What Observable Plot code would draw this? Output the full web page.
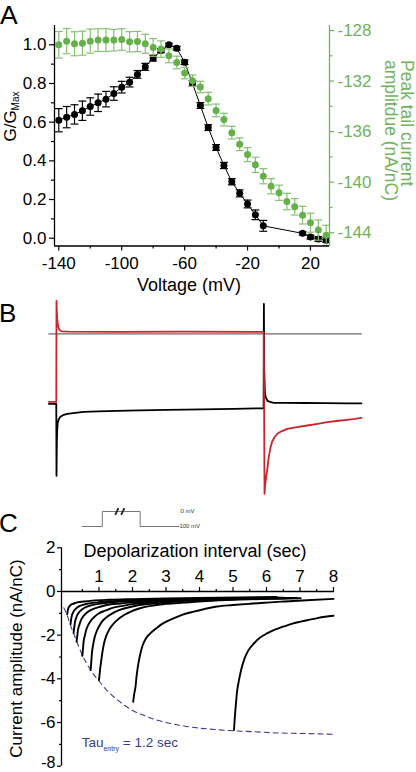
<!DOCTYPE html>
<html><head><meta charset="utf-8">
<script src="https://cdn.jsdelivr.net/npm/d3@7"></script>
<script src="https://cdn.jsdelivr.net/npm/@observablehq/plot@0.6"></script>
<style>
html,body{margin:0;padding:0;background:#fff;}
#fig{position:relative;width:416px;height:772px;overflow:hidden;font-family:"Liberation Sans",Arial,sans-serif;background:#fff;}
#fig svg{position:absolute;overflow:visible;background:none;}
</style></head><body><div id="fig"></div>
<script>
// ---------------- Panel A data ----------------
const voltageBlack = [-140,-135,-130,-125,-120,-115,-110,-105,-100,-95,-90,-85,-80,-75,-70,-65,-60,-55,-50,-45,-40,-35,-30,-25,-20,-15,-10,15,20,25,30];
const gNorm = [0.61,0.626,0.64,0.659,0.681,0.70,0.719,0.748,0.781,0.807,0.847,0.886,0.931,0.97,1.0,0.982,0.91,0.80,0.686,0.572,0.469,0.376,0.292,0.232,0.177,0.121,0.064,0.025,0.006,-0.004,-0.01];
const gNormErr = [0.06,0.055,0.05,0.05,0.045,0.045,0.04,0.035,0.03,0.025,0.02,0.018,0.015,0.01,0.008,0.01,0.012,0.014,0.015,0.015,0.015,0.016,0.016,0.018,0.02,0.025,0.028,0.008,0.01,0.012,0.012];
const voltageGreen = [-140,-135,-130,-125,-120,-115,-110,-105,-100,-95,-90,-85,-80,-75,-70,-65,-60,-55,-50,-45,-40,-35,-30,-25,-20,-15,-10,-5,0,5,10,15,20,25,30];
const tailAmp = [-129.13,-128.84,-129.05,-129.0,-128.84,-128.76,-128.76,-128.76,-128.71,-128.89,-128.87,-129.05,-129.34,-129.47,-130.0,-130.53,-131.37,-131.97,-132.47,-133.39,-134.32,-135.05,-136.08,-137.0,-137.82,-138.63,-139.53,-140.32,-140.84,-141.53,-141.95,-142.61,-143.21,-143.79,-144.21];
const tailAmpErr = [1.05,1.0,0.95,0.95,0.95,0.9,0.9,0.85,0.85,0.8,0.8,0.75,0.7,0.65,0.55,0.5,0.45,0.45,0.45,0.5,0.5,0.5,0.5,0.5,0.55,0.6,0.6,0.6,0.6,0.65,0.65,0.7,0.75,0.8,0.8];
const leftTicks = [0,0.2,0.4,0.6,0.8,1.0];
const leftMinorTicks = [0.1,0.3,0.5,0.7,0.9];
const voltTicks = [-140,-100,-60,-20,20];
const voltMinorTicks = [-120,-80,-40,0];
const rightTicks = [-128,-132,-136,-140,-144];
const rightMinorTicks = [-130,-134,-138,-142];

// ---------------- Panel B data ----------------
const bBaselineTime = [-37,1471];
const bTimeRed = [-37,-1,0,1,3,6,10,16,25,60,300,600,999,1000,1003.5,1006,1012,1016,1024,1032,1040,1052,1065,1085,1113,1160,1209,1260,1306,1350,1402,1440,1471];
const bCurrentRed = [-6.8,-6.8,3.3,2.6,1.7,1.0,0.6,0.35,0.25,0.22,0.2,0.22,0.2,0.0,-16.0,-15.2,-14.2,-13.7,-12.3,-11.4,-10.8,-10.35,-10.0,-9.75,-9.5,-9.33,-9.17,-9.0,-8.84,-8.72,-8.6,-8.5,-8.4];
const bTimeBlack = [-37,-1,0,1.5,3,6,12,19,35,52,90,132,200,293,400,534,700,855,999,1000.5,1002,1005,1010,1018,1030,1048,1100,1200,1300,1400,1471];
const bCurrentBlack = [-7.0,-7.0,-14.2,-11.0,-9.8,-8.9,-8.5,-8.3,-8.1,-8.0,-7.9,-7.8,-7.75,-7.7,-7.65,-7.6,-7.55,-7.5,-7.45,3.0,-3.5,-5.8,-6.4,-6.7,-6.8,-6.9,-6.9,-6.92,-6.93,-6.95,-6.95];

// ---------------- Panel C data ----------------
const cTraceTimes = [
  [0.05,0.07,0.09,0.13,0.17,0.25,0.35,0.55,0.8,1.3,2,3,4,5.2,6.3],
  [0.15,0.17,0.19,0.23,0.27,0.33,0.4,0.55,0.7,1,1.3,2,3,4.5,6.4],
  [0.24,0.26,0.28,0.32,0.36,0.42,0.49,0.59,0.74,0.94,1.24,1.74,2.24,3,4,5.2,6.5],
  [0.33,0.35,0.37,0.41,0.45,0.51,0.58,0.68,0.83,1.03,1.23,1.63,2.03,2.7,3.5,5,6.6],
  [0.5,0.52,0.54,0.58,0.62,0.68,0.75,0.85,1,1.2,1.4,1.7,2,2.5,3,4,5,6.8],
  [0.75,0.77,0.79,0.83,0.87,0.93,1,1.1,1.25,1.4,1.6,1.9,2.2,2.7,3.2,4,5,6.9],
  [1.0,1.03,1.07,1.11,1.15,1.22,1.3,1.42,1.55,1.75,1.95,2.2,2.54,3,3.54,4.2,5.03,6,7.02],
  [2.02,2.05,2.09,2.12,2.16,2.22,2.29,2.4,2.54,2.7,2.84,3.04,3.24,3.5,3.83,4.15,4.52,5,5.51,6,6.52,7.2,8.0],
  [5.03,5.05,5.08,5.12,5.18,5.25,5.33,5.45,5.63,5.8,6.03,6.25,6.52,6.75,7.02,7.3,7.52,7.75,8.0]
];
const cTraceCurrents = [
  [-1.05,-0.85,-0.75,-0.66,-0.6,-0.55,-0.5,-0.46,-0.42,-0.38,-0.35,-0.32,-0.3,-0.27,-0.25],
  [-1.5,-1.25,-1.1,-0.95,-0.85,-0.76,-0.68,-0.6,-0.55,-0.49,-0.45,-0.4,-0.36,-0.32,-0.28],
  [-1.9,-1.65,-1.42,-1.2,-1.05,-0.92,-0.82,-0.73,-0.65,-0.58,-0.52,-0.46,-0.42,-0.38,-0.35,-0.31,-0.28],
  [-2.3,-2.05,-1.78,-1.55,-1.35,-1.18,-1.05,-0.92,-0.8,-0.7,-0.62,-0.55,-0.5,-0.45,-0.4,-0.34,-0.3],
  [-2.95,-2.65,-2.3,-2.0,-1.75,-1.53,-1.35,-1.18,-1.0,-0.87,-0.75,-0.66,-0.58,-0.51,-0.45,-0.4,-0.35,-0.3],
  [-3.6,-3.2,-2.8,-2.4,-2.1,-1.82,-1.6,-1.36,-1.15,-1.0,-0.85,-0.72,-0.62,-0.54,-0.47,-0.41,-0.36,-0.3],
  [-4.05,-3.6,-3.13,-2.7,-2.37,-2.02,-1.76,-1.5,-1.3,-1.08,-0.92,-0.78,-0.66,-0.57,-0.51,-0.44,-0.38,-0.34,-0.31],
  [-5.05,-4.7,-4.36,-3.9,-3.44,-2.95,-2.52,-2.15,-1.91,-1.7,-1.53,-1.36,-1.22,-1.06,-0.92,-0.8,-0.69,-0.62,-0.56,-0.51,-0.46,-0.4,-0.34],
  [-6.34,-5.85,-5.27,-4.6,-4.05,-3.55,-3.13,-2.72,-2.37,-2.12,-1.91,-1.75,-1.6,-1.48,-1.38,-1.29,-1.22,-1.16,-1.11]
];
const tauFitTime = [-0.05,0.05,0.15,0.25,0.35,0.5,0.75,1.0,1.25,1.5,1.75,2.0,2.35,2.75,3.25,3.85,4.45,5.05,5.6,6.2,7.0,8.05];
const tauFitCurrent = [-0.75,-1.1,-1.55,-1.95,-2.35,-2.9,-3.6,-4.1,-4.55,-4.9,-5.2,-5.45,-5.68,-5.9,-6.08,-6.23,-6.32,-6.38,-6.42,-6.47,-6.5,-6.54];
const cYTicks = [2,0,-2,-4,-6,-8];
const cYMinorTicks = [1,-1,-3,-5,-7];
const cXTicks = [1,2,3,4,5,6,7,8];
const cXMinorTicks = [0.5,1.5,2.5,3.5,4.5,5.5,6.5,7.5];
const protocolTime = [0,1.25,1.25,3.6,3.6,6];
const protocolVoltage = [-100,-100,0,0,-100,-100];
const protocolBreaks = [2.15,2.52];

// ---------------- styling ----------------
const FONT = '"Liberation Sans", Arial, sans-serif';
const GREEN_DOT = "#66b04c", GREEN_BAR = "#86c072", GREEN_AXIS = "#6fb35a";
const RED = "#c9252c", NAVY = "#3a3a93";
const fig = document.getElementById("fig");

// ---------------- Panel A ----------------
const toL = r => 0.0284 + (r + 144) * 0.06534;      // right-axis units -> left-axis units
const fromL = l => (l - 0.0284) / 0.06534 - 144;
const blackData = voltageBlack.map((v,i)=>({v, y:gNorm[i], e:gNormErr[i]}));
const greenData = voltageGreen.map((v,i)=>({v, y:toL(tailAmp[i]), e:tailAmpErr[i]*0.06534}));
const cap = 2.5;
function errMarks(data, color, w){
  return [
    Plot.ruleX(data, {x:"v", y1:d=>d.y-d.e, y2:d=>d.y+d.e, stroke:color, strokeWidth:w}),
    Plot.link(data, {x1:d=>d.v-cap, x2:d=>d.v+cap, y1:d=>d.y+d.e, y2:d=>d.y+d.e, stroke:color, strokeWidth:w}),
    Plot.link(data, {x1:d=>d.v-cap, x2:d=>d.v+cap, y1:d=>d.y-d.e, y2:d=>d.y-d.e, stroke:color, strokeWidth:w})
  ];
}
const xDomA = [-142.73, 32.1], yDomA = [-0.0403, 1.0998];
const plotA = Plot.plot({
  width:416, height:300, marginLeft:54, marginRight:87, marginTop:25, marginBottom:54.5,
  style:{fontSize:"17px", fontFamily:FONT, background:"none", color:"black"},
  x:{domain:xDomA}, y:{domain:yDomA},
  marks:[
    Plot.line(blackData, {x:"v", y:"y", stroke:"black", strokeWidth:1}),
    ...errMarks(blackData, "black", 1.2),
    Plot.dot(blackData, {x:"v", y:"y", r:3.5, fill:"black", stroke:"none"}),
    ...errMarks(greenData, GREEN_BAR, 1.2),
    Plot.dot(greenData, {x:"v", y:"y", r:3.5, fill:GREEN_DOT, stroke:"none"}),
    Plot.ruleX([xDomA[0]], {stroke:"black", strokeWidth:1.3}),
    Plot.ruleY([yDomA[0]], {stroke:"black", strokeWidth:1.3}),
    Plot.ruleX([xDomA[1]], {stroke:GREEN_AXIS, strokeWidth:1.3}),
    Plot.axisY(leftTicks, {anchor:"left", tickSize:5, tickPadding:3, strokeWidth:1.2, label:null, tickFormat:d=>d.toFixed(1)}),
    Plot.axisY(leftMinorTicks, {anchor:"left", tickSize:3, strokeWidth:1.2, label:null, tickFormat:()=>""}),
    Plot.axisX(voltTicks, {anchor:"bottom", tickSize:5, tickPadding:6, strokeWidth:1.2, label:null, tickFormat:d=>String(d)}),
    Plot.axisX(voltMinorTicks, {anchor:"bottom", tickSize:3, strokeWidth:1.2, label:null, tickFormat:()=>""}),
    Plot.axisY(rightTicks.map(toL), {anchor:"right", tickSize:4, tickPadding:4, strokeWidth:1.2, color:GREEN_AXIS, label:null, tickFormat:d=>String(Math.round(fromL(d)))}),
    Plot.axisY(rightMinorTicks.map(toL), {anchor:"right", tickSize:2.5, strokeWidth:1.2, color:GREEN_AXIS, label:null, tickFormat:()=>""})
  ]
});
plotA.style.left="0px"; plotA.style.top="0px";
fig.appendChild(plotA);

// ---------------- Panel B ----------------
const redTrace = bTimeRed.map((t,i)=>({t, i:bCurrentRed[i]}));
const blackTrace = bTimeBlack.map((t,i)=>({t, i:bCurrentBlack[i]}));
const baseTrace = bBaselineTime.map(t=>({t, i:0}));
const plotB = Plot.plot({
  width:416, height:215, margin:0,
  style:{background:"none"},
  x:{domain:[-270.1,1736.6], axis:null}, y:{domain:[-17.17,4.33], axis:null},
  marks:[
    Plot.line(baseTrace, {x:"t", y:"i", stroke:"#6b6b6b", strokeWidth:1.2}),
    Plot.line(blackTrace, {x:"t", y:"i", stroke:"black", strokeWidth:1.8}),
    Plot.line(redTrace, {x:"t", y:"i", stroke:RED, strokeWidth:1.8})
  ]
});
plotB.style.left="0px"; plotB.style.top="290px";
fig.appendChild(plotB);

// ---------------- Panel C ----------------
const cTraces = cTraceTimes.flatMap((ts,k)=>ts.map((t,j)=>({k, t, i:cTraceCurrents[k][j]})));
const tauFit = tauFitTime.map((t,j)=>({t, i:tauFitCurrent[j]}));
const xDomC = [-0.12, 8.03];
const lastYTick = cYTicks[cYTicks.length-1];
const plotC = Plot.plot({
  width:416, height:272, marginLeft:61, marginRight:82, marginTop:48.3, marginBottom:5.3,
  style:{fontSize:"17px", fontFamily:FONT, background:"none", color:"black"},
  x:{domain:xDomC}, y:{domain:[-8,2]},
  marks:[
    Plot.line(tauFit, {x:"t", y:"i", stroke:NAVY, strokeWidth:1.1, strokeDasharray:"5,4", curve:"monotone-x"}),
    Plot.line(cTraces, {x:"t", y:"i", z:"k", stroke:"black", strokeWidth:1.9, curve:"monotone-x"}),
    Plot.ruleX([xDomC[0]], {stroke:"black", strokeWidth:1.3}),
    Plot.ruleY([0], {stroke:"black", strokeWidth:1.3}),
    Plot.axisY(cYTicks, {anchor:"left", tickSize:4, tickPadding:2, strokeWidth:1.2, label:null, tickFormat:d=>d===lastYTick?"":String(d)}),
    Plot.text([lastYTick], {x:xDomC[0], y:d=>d, text:d=>String(d), textAnchor:"end", lineAnchor:"bottom", dx:-6, dy:2, fontSize:16}),
    Plot.axisY(cYMinorTicks, {anchor:"left", tickSize:2, strokeWidth:1.2, label:null, tickFormat:()=>""}),
    Plot.axisX(cXTicks, {anchor:"top", dy:43.7, tickSize:5, tickPadding:5, strokeWidth:1.2, label:null, tickFormat:d=>String(d)}),
    Plot.axisX(cXMinorTicks, {anchor:"top", dy:43.7, tickSize:3, strokeWidth:1.2, label:null, tickFormat:()=>""})
  ]
});
plotC.style.left="0px"; plotC.style.top="498.5px";
fig.appendChild(plotC);

// inset: voltage protocol
const protocol = protocolTime.map((t,j)=>({t, v:protocolVoltage[j]}));
const plotInset = Plot.plot({
  width:140, height:40, marginLeft:1.7, marginRight:41.7, marginTop:11, marginBottom:14,
  style:{fontSize:"6px", fontFamily:FONT, background:"none"},
  x:{domain:[0,6], axis:null}, y:{domain:[-100,0], axis:null},
  marks:[
    Plot.line(protocol, {x:"t", y:"v", stroke:"#777", strokeWidth:1}),
    Plot.link(protocolBreaks, {x1:d=>d-0.1, x2:d=>d+0.1, y1:-22, y2:22, stroke:"#222", strokeWidth:1.8}),
    Plot.text([{t:6, v:0, s:"0 mV"}], {x:"t", y:"v", text:"s", textAnchor:"start", dx:1.6, fill:"#333"}),
    Plot.text([{t:6, v:-100, s:"-100 mV"}], {x:"t", y:"v", text:"s", textAnchor:"start", dx:-1.4, fill:"#333"})
  ]
});
plotInset.style.left="80px"; plotInset.style.top="500px";
fig.appendChild(plotInset);

// ---------------- text overlay ----------------
const ov = d3.create("svg").attr("width",416).attr("height",772)
  .style("left","0px").style("top","0px").style("pointer-events","none")
  .attr("font-family", FONT);
function txt(x,y,s,size,opts={}){
  const t = ov.append("text").attr("x",x).attr("y",y).attr("font-size",size)
    .attr("text-anchor",opts.anchor||"start").attr("fill",opts.fill||"black").text(s);
  if (opts.rotate!=null) t.attr("x",0).attr("y",0).attr("transform",`translate(${x},${y}) rotate(${opts.rotate})`);
  return t;
}
txt(0,23.6,"A",26.5);
txt(-1,322,"B",26);
txt(-1,531.5,"C",26);
// G/G_Max
const gl = ov.append("text").attr("transform","translate(15.5,116.5) rotate(-90)").attr("text-anchor","middle").attr("font-size",17);
gl.append("tspan").text("G/G");
gl.append("tspan").attr("font-size",10).attr("dy",3).text("Max");
txt(189,290.7,"Voltage (mV)",18,{anchor:"middle"});
txt(400.5,60,"Peak tail current",17.5,{rotate:90,fill:GREEN_AXIS});
txt(385.4,60,"amplitdue (nA/nC)",17.5,{rotate:90,fill:GREEN_AXIS});
txt(195,557,"Depolarization interval (sec)",18,{anchor:"middle"});
txt(22,658.5,"Current amplitude (nA/nC)",17,{anchor:"middle",rotate:-90});
const tau = ov.append("text").attr("x",81.7).attr("y",746.7).attr("font-size",13.5).attr("fill",NAVY);
tau.append("tspan").text("Tau");
tau.append("tspan").attr("font-size",7).attr("dy",4).text("entry");
tau.append("tspan").attr("dy",-4).text(" = 1.2 sec");
fig.appendChild(ov.node());
</script></body></html>
